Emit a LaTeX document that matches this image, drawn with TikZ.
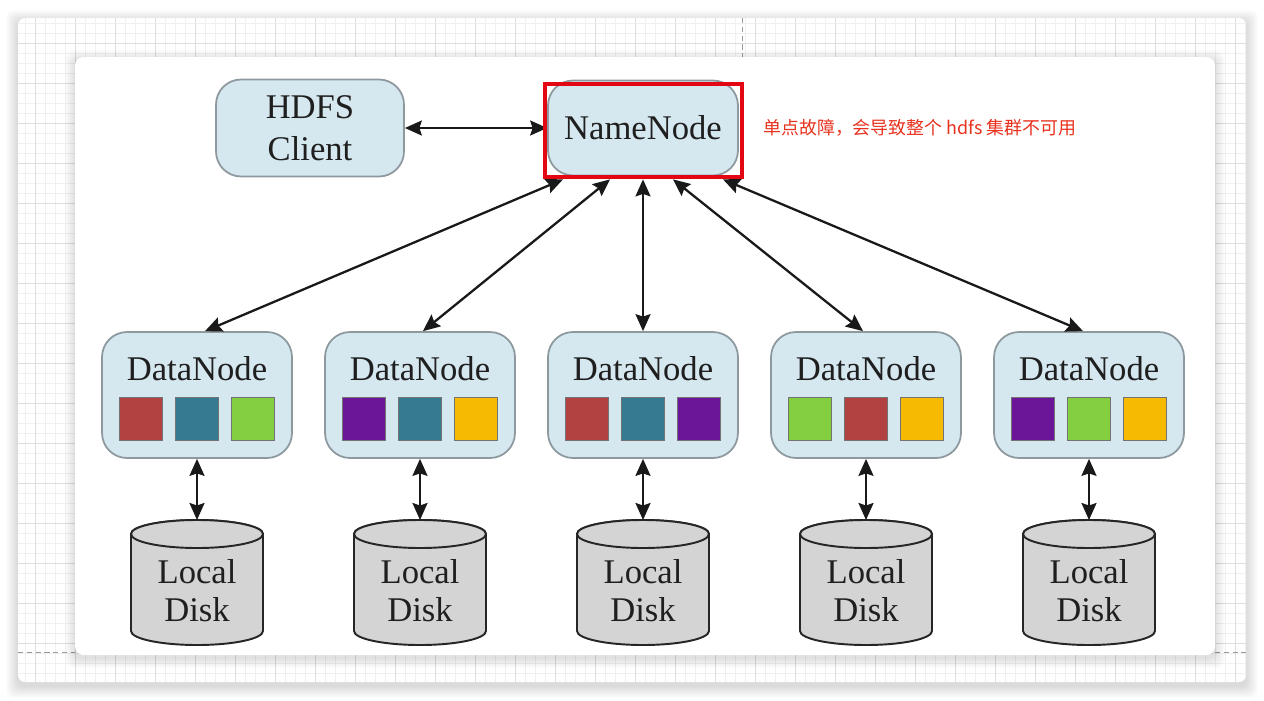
\documentclass[tikz,border=0pt]{standalone}
\usepackage{fontspec}
\setmainfont{Liberation Serif}
\newfontfamily\cjkfont{Noto Sans CJK SC}
\usetikzlibrary{arrows.meta}

\definecolor{nodefill}{HTML}{D5E7EF}
\definecolor{nodeline}{HTML}{8D999E}
\definecolor{diskfill}{HTML}{D4D4D4}
\definecolor{bred}{HTML}{B24242}
\definecolor{bteal}{HTML}{357A8E}
\definecolor{bgreen}{HTML}{83CF40}
\definecolor{bpurple}{HTML}{6B1698}
\definecolor{byellow}{HTML}{F6BA02}
\definecolor{alertred}{HTML}{E8321E}
\definecolor{framered}{HTML}{E30613}

\tikzset{
  title/.style={font=\fontsize{19.7}{24}\selectfont, text=black!88},
  nodebox/.style={title, draw=nodeline, fill=nodefill, line width=1pt, rounded corners=0.5cm, align=center},
  block/.style={draw=black!55, line width=0.5pt, minimum size=0.86cm, inner sep=0pt},
  disk/.style={draw=black!85, fill=diskfill, line width=1.1pt},
  link/.style={{Stealth[length=0.34cm,width=0.3cm,inset=0.05cm]}-{Stealth[length=0.34cm,width=0.3cm,inset=0.05cm]}, line width=1.3pt, black!90},
  gridminor/.style={black!6, line width=0.4pt},
  gridmajor/.style={black!13, line width=0.5pt},
}

\begin{document}
\begin{tikzpicture}[x=0.02cm, y=-0.02cm]
    \useasboundingbox (0,0) rectangle (1264,700);
    \fill[white] (0,0) rectangle (1264,700);

    % Hintergrund mit Raster
    \foreach \s in {1,...,12}
        \fill[black, opacity=0.01, rounded corners=4pt] (18-\s,22-\s) rectangle (1246+\s,686+\s);
    \fill[white, rounded corners=4pt] (18,18) rectangle (1246,682);
    \begin{scope}
        \clip[rounded corners=4pt] (18,18) rectangle (1246,682);
        \foreach \x in {25,35,...,1245} \draw[gridminor] (\x,18) -- (\x,682);
        \foreach \y in {23,33,...,673} \draw[gridminor] (18,\y) -- (1246,\y);
        \foreach \x in {35,75,...,1235} \draw[gridmajor] (\x,18) -- (\x,682);
        \foreach \y in {43,83,...,643} \draw[gridmajor] (18,\y) -- (1246,\y);
    \end{scope}
    \draw[black!40, dash pattern=on 3pt off 2pt, line width=0.5pt] (742,18) -- (742,57);
    \draw[black!40, dash pattern=on 3pt off 2pt, line width=0.5pt] (18,652) -- (75,652);
    \draw[black!40, dash pattern=on 3pt off 2pt, line width=0.5pt] (1215,652) -- (1246,652);

    % Karte
    \foreach \s in {1,...,10}
        \fill[black, opacity=0.012, rounded corners=5pt] (75-\s,60-\s) rectangle (1215+\s,658+\s);
    \fill[white, rounded corners=5pt] (75,57) rectangle (1215,655);

    % Client und NameNode
    \node[nodebox, minimum width=3.76cm, minimum height=1.94cm] (client) at (310,128) {HDFS\\Client};
    \node[nodebox, minimum width=3.8cm, minimum height=1.9cm] (namenode) at (643,128) {NameNode};
    \draw[link] (client) -- (namenode);
    \node[text=alertred, font=\cjkfont\fontsize{10.2}{12}\selectfont, anchor=west, inner sep=0pt] (note) at (763,128) {单点故障，会导致整个 hdfs 集群不可用};

    % DataNodes mit Bloecken und Platten
    \foreach \i/\x/\ca/\cb/\cc in {1/197/bred/bteal/bgreen, 2/420/bpurple/bteal/byellow,
        3/643/bred/bteal/bpurple, 4/866/bgreen/bred/byellow, 5/1089/bpurple/bgreen/byellow} {
        \node[nodebox, minimum width=3.8cm, minimum height=2.52cm] (dn\i) at (\x,395) {};
        \node[title] (dntitle\i) at (\x,369) {DataNode};
        \node[block, fill=\ca] (sq\i-a) at (\x-56,419) {};
        \node[block, fill=\cb] (sq\i-b) at (\x,419) {};
        \node[block, fill=\cc] (sq\i-c) at (\x+56,419) {};

        \filldraw[disk] (\x-66,534) -- (\x-66,631) arc[start angle=180, end angle=0, x radius=66, y radius=14]
            -- (\x+66,534) arc[start angle=0, end angle=-180, x radius=66, y radius=14] -- cycle;
        \draw[disk] (\x,534) ellipse [x radius=66, y radius=14];
        \node[title, font=\fontsize{19.7}{21.6}\selectfont, align=center] (disk\i) at (\x,591) {Local\\Disk};
        \coordinate (top\i) at (\x,520);
        \draw[link] (dn\i) -- (top\i);
    }

    % Verbindungen zum NameNode
    \foreach \i/\a/\b in {1/-1.6/0.16, 2/-0.66/0.06, 3/0/0, 4/0.6/-0.06, 5/1.6/-0.12}
        \draw[link] ([xshift=\a cm, yshift=-0.06cm]namenode.south) -- ([xshift=\b cm]dn\i.north);

    \draw[framered, line width=0.07cm] (545,84) rectangle (742,177);
\end{tikzpicture}
\end{document}
